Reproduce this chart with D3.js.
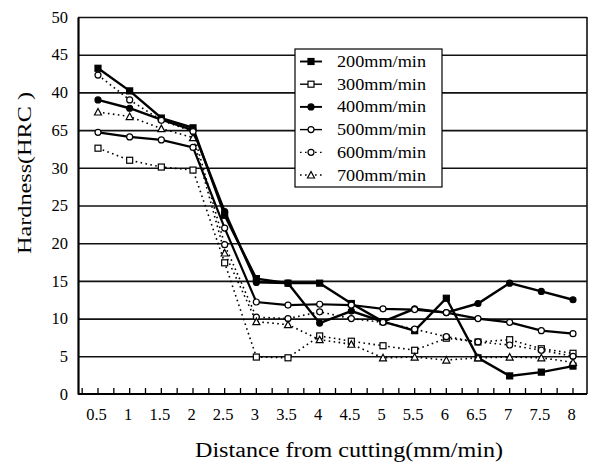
<!DOCTYPE html>
<html>
<head>
<meta charset="utf-8">
<script src="https://cdn.jsdelivr.net/npm/d3@7"></script>
<style>
  body { margin: 0; background: #fff; }
  svg { display: block; }
  text { font-family: "Liberation Serif", "DejaVu Serif", serif; fill: #000; }
</style>
</head>
<body>
<div id="chart"></div>
<script>
// categories on the x axis (distance)
const distances = [0.5, 1, 1.5, 2, 2.5, 3, 3.5, 4, 4.5, 5, 5.5, 6, 6.5, 7, 7.5, 8];
const xTickLabels = ["0.5", "1", "1.5", "2", "2.5", "3", "3.5", "4", "4.5", "5", "5.5", "6", "6.5", "7", "7.5", "8"];

// y ticks, the scan prints "65" where 35 should be
const yTickVals = [0, 5, 10, 15, 20, 25, 30, 35, 40, 45, 50];
const yTickLabels = ["0", "5", "10", "15", "20", "25", "30", "65", "40", "45", "50"];

const seriesNames = ["200mm/min", "300mm/min", "400mm/min", "500mm/min", "600mm/min", "700mm/min"];

// hardness values
const hard200 = [43.2, 40.2, 36.6, 35.3, 23.7, 15.3, 14.7, 14.7, 12.0, 9.6, 8.4, 12.7, 4.8, 2.4, 2.9, 3.7];
const hard300 = [32.6, 31.0, 30.1, 29.7, 17.4, 4.9, 4.8, 7.7, 7.0, 6.4, 5.8, 7.4, 6.9, 7.2, 6.0, 5.4];
const hard400 = [39.0, 37.9, 36.4, 35.0, 24.2, 14.8, 14.7, 9.4, 11.0, 9.6, 11.3, 10.8, 12.0, 14.7, 13.6, 12.5];
const hard500 = [34.7, 34.1, 33.7, 32.7, 22.0, 12.2, 11.8, 11.9, 11.8, 11.3, 11.2, 10.8, 10.0, 9.5, 8.4, 8.0];
const hard600 = [42.3, 39.0, 36.3, 34.8, 19.8, 10.2, 10.0, 10.9, 10.0, 9.5, 8.6, 7.6, 6.9, 6.5, 5.8, 5.0];
const hard700 = [37.4, 36.8, 35.2, 34.0, 18.7, 9.6, 9.2, 7.2, 6.6, 4.8, 4.9, 4.5, 4.8, 4.9, 4.8, 4.2];

const allSeries = [hard200, hard300, hard400, hard500, hard600, hard700];

// look of each series: marker type and line dash
const markerType = ["fsquare", "osquare", "fcircle", "ocircle", "ocircle", "triangle"];
const lineDash = [null, "1.6,3.4", null, null, "1.6,3.4", "1.6,3.4"];
const lineWidth = [2.4, 1.6, 2.4, 2.2, 1.6, 1.6];

const W = 591, H = 463;
const plot = { left: 78, right: 587, top: 17, bottom: 394 };

const svg = d3.select("#chart").append("svg")
  .attr("width", W)
  .attr("height", H);

const x = d3.scaleLinear().domain([0.5, 8]).range([98, 573]);
const y = d3.scaleLinear().domain([0, 50]).range([plot.bottom, plot.top]);

// horizontal grid lines
svg.append("g")
  .attr("class", "grid")
  .attr("transform", `translate(${plot.left},0)`)
  .call(d3.axisLeft(y).tickValues(yTickVals.slice(1)).tickSize(-(plot.right - plot.left)).tickFormat(""))
  .call(g => g.select(".domain").remove())
  .call(g => g.selectAll("line").attr("stroke", "#111").attr("stroke-width", 1.6));

// right border
svg.append("line")
  .attr("x1", plot.right).attr("x2", plot.right)
  .attr("y1", plot.top).attr("y2", plot.bottom)
  .attr("stroke", "#111").attr("stroke-width", 1.6);

// y axis with labels
svg.append("g")
  .attr("transform", `translate(${plot.left},0)`)
  .call(d3.axisLeft(y).tickValues(yTickVals).tickSize(0).tickPadding(10)
    .tickFormat((d, i) => yTickLabels[i]))
  .call(g => g.select(".domain").attr("stroke", "#000").attr("stroke-width", 2.2))
  .call(g => g.selectAll("text").attr("font-size", 16.5).attr("font-family", "Liberation Serif, serif"));

// x axis with labels
svg.append("g")
  .attr("transform", `translate(0,${plot.bottom})`)
  .call(d3.axisBottom(x).tickValues(distances).tickSize(0).tickPadding(14)
    .tickFormat((d, i) => xTickLabels[i]))
  .call(g => g.select(".domain").attr("d", `M${plot.left},0H${plot.right}`).attr("stroke", "#000").attr("stroke-width", 2.2))
  .call(g => g.selectAll("text").attr("font-size", 16.5).attr("font-family", "Liberation Serif, serif").attr("dx", -2));

// small inside ticks every quarter
const minorTicks = d3.range(0.25, 8.01, 0.25);
svg.append("g").selectAll("line")
  .data(minorTicks)
  .join("line")
  .attr("x1", d => x(d)).attr("x2", d => x(d))
  .attr("y1", plot.bottom).attr("y2", plot.bottom - 6)
  .attr("stroke", "#000").attr("stroke-width", 1.3);

// series lines
const lineGen = d3.line()
  .x((d, i) => x(distances[i]))
  .y(d => y(d));

function drawMarker(g, type, cx, cy) {
  if (type === "fsquare" || type === "osquare") {
    g.append("rect")
      .attr("x", cx - 3).attr("y", cy - 3)
      .attr("width", 6).attr("height", 6)
      .attr("fill", type === "fsquare" ? "#000" : "#fff")
      .attr("stroke", "#000").attr("stroke-width", 1.2);
  } else if (type === "fcircle" || type === "ocircle") {
    g.append("circle")
      .attr("cx", cx).attr("cy", cy).attr("r", 3)
      .attr("fill", type === "fcircle" ? "#000" : "#fff")
      .attr("stroke", "#000").attr("stroke-width", 1.2);
  } else {
    g.append("path")
      .attr("d", `M${cx},${cy - 3.5}L${cx + 3.5},${cy + 3}L${cx - 3.5},${cy + 3}Z`)
      .attr("fill", "#fff")
      .attr("stroke", "#000").attr("stroke-width", 1.2);
  }
}

const seriesG = svg.append("g").attr("class", "series");
allSeries.forEach((vals, s) => {
  seriesG.append("path")
    .datum(vals)
    .attr("d", lineGen)
    .attr("fill", "none")
    .attr("stroke", "#000")
    .attr("stroke-width", lineWidth[s])
    .attr("stroke-dasharray", lineDash[s]);
});
allSeries.forEach((vals, s) => {
  const mg = seriesG.append("g");
  vals.forEach((v, i) => drawMarker(mg, markerType[s], x(distances[i]), y(v)));
});

// legend
const legend = { x: 295, y: 49, w: 147, h: 138, row: 22.7 };
const lg = svg.append("g").attr("class", "legend");
lg.append("rect")
  .attr("x", legend.x).attr("y", legend.y)
  .attr("width", legend.w).attr("height", legend.h)
  .attr("fill", "#fff").attr("stroke", "#000").attr("stroke-width", 1.2);

seriesNames.forEach((name, s) => {
  const ry = legend.y + 12.5 + s * legend.row;
  lg.append("line")
    .attr("x1", legend.x + 5).attr("x2", legend.x + 27)
    .attr("y1", ry).attr("y2", ry)
    .attr("stroke", "#000")
    .attr("stroke-width", s === 1 || s === 3 ? 1.4 : lineWidth[s] * 0.8)
    .attr("stroke-dasharray", s === 1 ? null : lineDash[s]);
  drawMarker(lg, markerType[s], legend.x + 16, ry);
  lg.append("text")
    .attr("x", legend.x + 42).attr("y", ry)
    .attr("dominant-baseline", "central")
    .attr("font-size", 17)
    .attr("textLength", 89)
    .attr("lengthAdjust", "spacingAndGlyphs")
    .text(name);
});

// axis titles
svg.append("text")
  .attr("transform", "translate(24,173) rotate(-90)")
  .attr("text-anchor", "middle")
  .attr("dominant-baseline", "central")
  .attr("font-size", 19)
  .attr("textLength", 162)
  .attr("lengthAdjust", "spacingAndGlyphs")
  .text("Hardness(HRC )");

svg.append("text")
  .attr("x", 349).attr("y", 457)
  .attr("text-anchor", "middle")
  .attr("font-size", 20)
  .attr("textLength", 308)
  .attr("lengthAdjust", "spacingAndGlyphs")
  .text("Distance from cutting(mm/min)");
</script>
</body>
</html>
